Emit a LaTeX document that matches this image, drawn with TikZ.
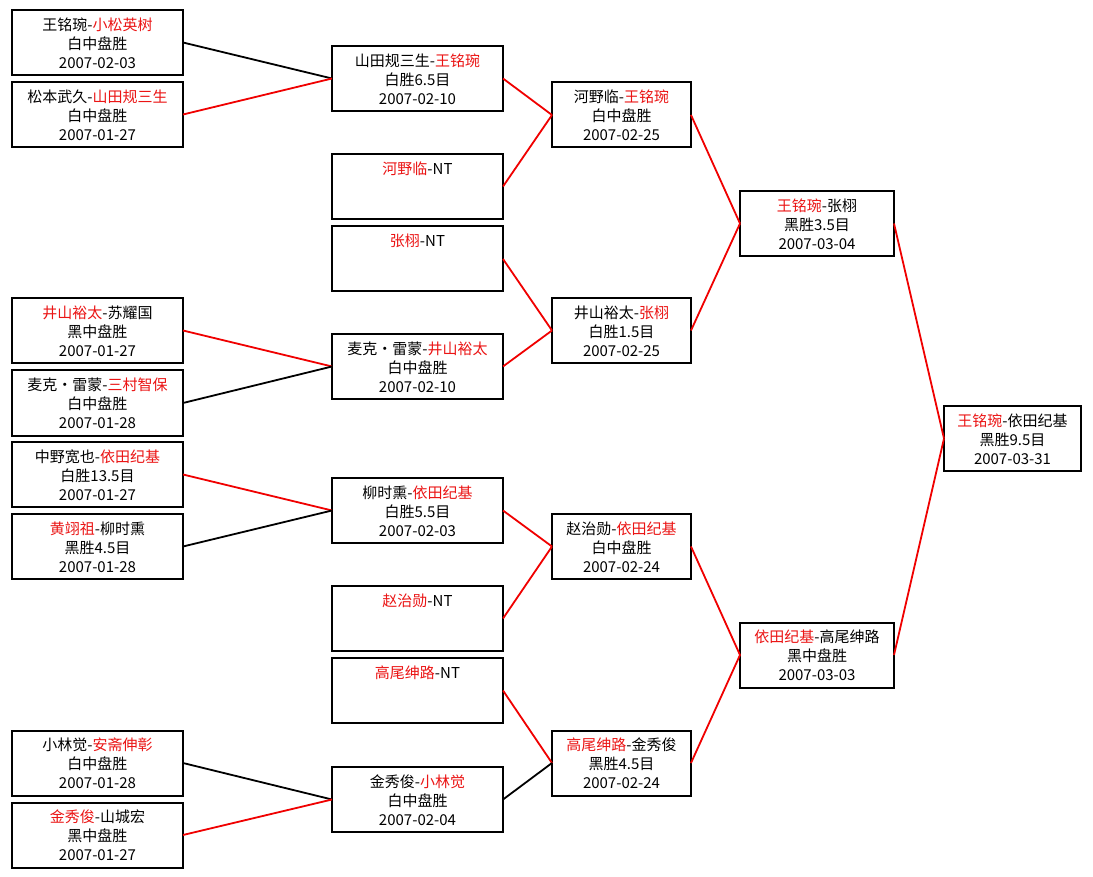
\documentclass[tikz,border=0pt]{standalone}
\usepackage{fontspec}
\setmainfont{Noto Sans CJK SC}
\definecolor{win}{RGB}{235,20,20}
\definecolor{wline}{RGB}{240,0,0}
\newcommand{\rd}[1]{\textcolor{win}{#1}}
\newcommand{\gbox}[7]{%
  \node[gamebox] (#1) at (#2,#3) {\parbox[t][65pt][t]{#4pt}{\centering\vspace*{7pt}\strut#5\\\strut#6\\\strut#7}};}
\tikzset{
  gamebox/.style={draw=black, line width=2pt, inner sep=0pt, outer sep=0pt, fill=white,
    font=\fontsize{15}{19}\selectfont},
  redline/.style={draw=wline, line width=1.8pt},
  blkline/.style={draw=black, line width=1.8pt},
}
\begin{document}
\begin{tikzpicture}[x=1pt,y=-1pt]
\fill[white] (0,0) rectangle (1093,877);
\useasboundingbox (0,0) rectangle (1093,877);
% column 1
\gbox{b1}{97.5}{42.5}{171}{王铭琬-\rd{小松英树}}{白中盘胜}{2007-02-03}
\gbox{b2}{97.5}{114.5}{171}{松本武久-\rd{山田规三生}}{白中盘胜}{2007-01-27}
\gbox{b3}{97.5}{330.5}{171}{\rd{井山裕太}-苏耀国}{黑中盘胜}{2007-01-27}
\gbox{b4}{97.5}{403}{171}{麦克・雷蒙-\rd{三村智保}}{白中盘胜}{2007-01-28}
\gbox{b5}{97.5}{474.5}{171}{中野宽也-\rd{依田纪基}}{白胜13.5目}{2007-01-27}
\gbox{b6}{97.5}{546.5}{171}{\rd{黄翊祖}-柳时熏}{黑胜4.5目}{2007-01-28}
\gbox{b7}{97.5}{763}{171}{小林觉-\rd{安斋伸彰}}{白中盘胜}{2007-01-28}
\gbox{b8}{97.5}{835}{171}{\rd{金秀俊}-山城宏}{黑中盘胜}{2007-01-27}
% column 2
\gbox{a1}{417.5}{78.5}{171}{山田规三生-\rd{王铭琬}}{白胜6.5目}{2007-02-10}
\gbox{a2}{417.5}{186.5}{171}{\rd{河野临}-NT}{}{}
\gbox{a3}{417.5}{259}{171}{\rd{张栩}-NT}{}{}
\gbox{a4}{417.5}{366.5}{171}{麦克・雷蒙-\rd{井山裕太}}{白中盘胜}{2007-02-10}
\gbox{a5}{417.5}{510.5}{171}{柳时熏-\rd{依田纪基}}{白胜5.5目}{2007-02-03}
\gbox{a6}{417.5}{618.5}{171}{\rd{赵治勋}-NT}{}{}
\gbox{a7}{417.5}{690.5}{171}{\rd{高尾绅路}-NT}{}{}
\gbox{a8}{417.5}{799.5}{171}{金秀俊-\rd{小林觉}}{白中盘胜}{2007-02-04}
% column 3
\gbox{c1}{621.5}{115}{139}{河野临-\rd{王铭琬}}{白中盘胜}{2007-02-25}
\gbox{c2}{621.5}{330.5}{139}{井山裕太-\rd{张栩}}{白胜1.5目}{2007-02-25}
\gbox{c3}{621.5}{546.5}{139}{赵治勋-\rd{依田纪基}}{白中盘胜}{2007-02-24}
\gbox{c4}{621.5}{763}{139}{\rd{高尾绅路}-金秀俊}{黑胜4.5目}{2007-02-24}
% column 4
\gbox{d1}{817}{223.5}{154}{\rd{王铭琬}-张栩}{黑胜3.5目}{2007-03-04}
\gbox{d2}{817}{655}{154}{\rd{依田纪基}-高尾绅路}{黑中盘胜}{2007-03-03}
% column 5
\gbox{e1}{1012.5}{438.5}{137}{\rd{王铭琬}-依田纪基}{黑胜9.5目}{2007-03-31}
% connectors
\draw[blkline] (b1.east) -- (a1.west);
\draw[redline] (b2.east) -- (a1.west);
\draw[redline] (b3.east) -- (a4.west);
\draw[blkline] (b4.east) -- (a4.west);
\draw[redline] (b5.east) -- (a5.west);
\draw[blkline] (b6.east) -- (a5.west);
\draw[blkline] (b7.east) -- (a8.west);
\draw[redline] (b8.east) -- (a8.west);
\draw[redline] (a1.east) -- (c1.west);
\draw[redline] (a2.east) -- (c1.west);
\draw[redline] (a3.east) -- (c2.west);
\draw[redline] (a4.east) -- (c2.west);
\draw[redline] (a5.east) -- (c3.west);
\draw[redline] (a6.east) -- (c3.west);
\draw[redline] (a7.east) -- (c4.west);
\draw[blkline] (a8.east) -- (c4.west);
\draw[redline] (c1.east) -- (d1.west);
\draw[redline] (c2.east) -- (d1.west);
\draw[redline] (c3.east) -- (d2.west);
\draw[redline] (c4.east) -- (d2.west);
\draw[redline] (d1.east) -- (e1.west);
\draw[redline] (d2.east) -- (e1.west);
\end{tikzpicture}
\end{document}
